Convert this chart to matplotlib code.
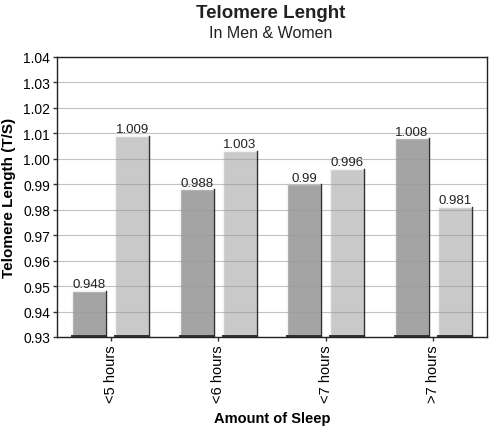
import numpy as np
import matplotlib.pyplot as plt

plt.rcParams['font.family'] = ['Liberation Sans', 'DejaVu Sans']

categories = ['<5 hours', '<6 hours', '<7 hours', '>7 hours']
men = [0.948, 0.988, 0.99, 1.008]
women = [1.009, 1.003, 0.996, 0.981]
yticks = [0.93, 0.94, 0.95, 0.96, 0.97, 0.98, 0.99, 1.00, 1.01, 1.02, 1.03, 1.04]

fig = plt.figure(figsize=(4.9, 4.31), dpi=100)
ax = fig.add_axes([57 / 490, 1 - 338 / 431, 430 / 490, 280 / 431])

x = np.arange(len(categories))
w = 0.318
off = 0.2

def draw(vals, pos, color):
    bars = ax.bar(pos, vals, width=w, color=color, edgecolor='#f4f4f4',
                  linewidth=1.0, zorder=2)
    for b in bars:
        x0 = b.get_x()
        x1 = x0 + b.get_width()
        h = b.get_height()
        ax.plot([x1, x1], [0.93, h], color='#303030', lw=1.0, zorder=3)
        ax.plot([x0, x1], [0.9302, 0.9302], color='#303030', lw=1.4, zorder=3)
        ax.text(b.get_x() + b.get_width() / 2, h + 0.0003, f'{h:g}',
                ha='center', va='bottom', fontsize=9.5, color='#222222')

draw(men, x - off, '#a4a4a4')
draw(women, x + off, '#c9c9c9')

ax.set_xlim(-0.5, len(categories) - 0.5)
ax.set_ylim(0.93, 1.04)
ax.set_yticks(yticks)
ax.set_yticklabels([f'{t:.2f}' for t in yticks], fontsize=10)
ax.set_xticks(x)
ax.set_xticklabels(categories, rotation=90, fontsize=10.5)
ax.yaxis.grid(True, color='#9a9a9a', lw=0.8, alpha=0.6, zorder=4)
ax.set_axisbelow(False)
ax.tick_params(length=3, width=1, color='#333333', pad=2)
for s in ax.spines.values():
    s.set_color('#222222')
    s.set_linewidth(1.0)
    s.set_zorder(5)

ax.set_ylabel('Telomere Length (T/S)', fontsize=11, fontweight='bold', labelpad=5)
ax.set_xlabel('Amount of Sleep', fontsize=10.5, fontweight='bold', labelpad=7)

fig.text(271 / 490, 1 - 14 / 431, 'Telomere Lenght', ha='center', va='center',
         fontsize=13.5, fontweight='bold', color='#222222')
fig.text(271 / 490, 1 - 34 / 431, 'In Men & Women', ha='center', va='center',
         fontsize=11.5, color='#222222')

fig.savefig('out.png', dpi=100)
